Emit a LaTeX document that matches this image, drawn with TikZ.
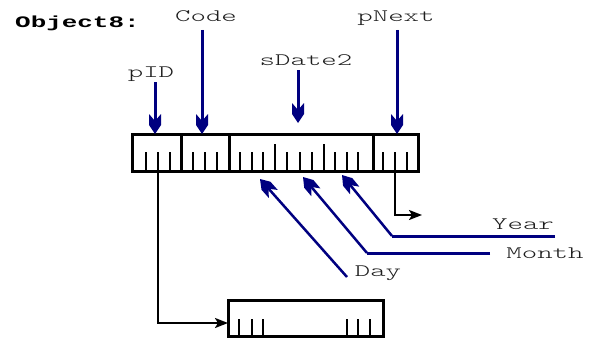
\documentclass[tikz,border=0pt]{standalone}
\usepackage{fontspec}
\usetikzlibrary{arrows.meta}
\newfontfamily\lblfont[FakeStretch=1.68]{Latin Modern Mono Light}
\newfontfamily\ttlfont[FakeStretch=1.62]{Liberation Mono Bold}
\definecolor{ptrblue}{RGB}{0,0,128}
\definecolor{txtgray}{RGB}{30,30,30}
\pgfdeclarearrow{
  name = Notch,
  setup code = {
    \pgfarrowssettipend{0pt}
    \pgfarrowssetlineend{-12pt}
    \pgfarrowssetbackend{-20pt}
    \pgfarrowshullpoint{0pt}{0pt}
    \pgfarrowsupperhullpoint{-20pt}{6pt}
    \pgfarrowsupperhullpoint{-9pt}{6pt}
  },
  drawing code = {
    \pgfpathmoveto{\pgfqpoint{0pt}{0pt}}
    \pgfpathlineto{\pgfqpoint{-9pt}{6pt}}
    \pgfpathlineto{\pgfqpoint{-20pt}{6pt}}
    \pgfpathlineto{\pgfqpoint{-13pt}{0pt}}
    \pgfpathlineto{\pgfqpoint{-20pt}{-6pt}}
    \pgfpathlineto{\pgfqpoint{-9pt}{-6pt}}
    \pgfpathclose
    \pgfusepathqfill
  }
}
\begin{document}
\begin{tikzpicture}[x=1pt,y=-1pt,
  lbl/.style={font=\lblfont\fontsize{17.5}{17.5}\selectfont, text=txtgray, inner sep=0pt, anchor=base},
  cell/.style={draw=black, line width=3pt, minimum height=37pt, inner sep=0pt},
  tick/.style={draw=black, line width=2.5pt},
  bptr/.style={draw=ptrblue, fill=ptrblue, line width=3pt, -{Notch}},
  dptr/.style={draw=ptrblue, fill=ptrblue, line width=2.5pt, -{Notch}},
  bline/.style={draw=ptrblue, line width=3pt},
  kptr/.style={draw=black, line width=2.2pt, -{Stealth[length=13pt,width=10pt,inset=3pt]}},
]
\useasboundingbox (0,0) rectangle (596,345);

% labels
\node[inner sep=0pt, anchor=base west, font=\ttlfont\fontsize{16}{16}\selectfont] (title) at (15,28) {Object8:};
\node[lbl] (code) at (206,22) {Code};
\node[lbl] (pnext) at (396,22) {pNext};
\node[lbl] (sdate) at (306,65) {sDate2};
\node[lbl] (pid) at (151,77) {pID};
\node[lbl] (year) at (523,229) {Year};
\node[lbl] (month) at (545,258) {Month};
\node[lbl] (day) at (378,276) {Day};

% main record cells
\node[cell, minimum width=49pt] (c1) at (156.5,152.5) {};
\node[cell, minimum width=48pt] (c2) at (205,152.5) {};
\node[cell, minimum width=144pt] (c3) at (301,152.5) {};
\node[cell, minimum width=45pt] (c4) at (395.5,152.5) {};

% ticks
\foreach \x in {146,158,170,193,205,217,240,252,263,287,300,312,335,347,358,383,395,407}
  \draw[tick] (\x,152) -- (\x,171);
\foreach \x in {275,324}
  \draw[tick] (\x,144) -- (\x,171);

% lower record
\node[cell, minimum width=155pt, minimum height=36pt] (low) at (305.5,318) {};
\foreach \x in {239,252,263,347,358,370}
  \draw[tick] (\x,319) -- (\x,336);

% blue pointers from top
\coordinate (pidA) at (155,82);   \coordinate (pidB) at (155,134);
\coordinate (codeA) at (202,30);  \coordinate (codeB) at (202,134);
\coordinate (sdA) at (298,70);    \coordinate (sdB) at (298,123);
\coordinate (pnA) at (397,30);    \coordinate (pnB) at (397,134);
\draw[bptr] (pidA) -- (pidB);
\draw[bptr] (codeA) -- (codeB);
\draw[bptr] (sdA) -- (sdB);
\draw[bptr] (pnA) -- (pnB);

% Day / Month / Year pointers
\coordinate (dayS) at (347,277);  \coordinate (dayT) at (260,179);
\coordinate (monE) at (490,253);  \coordinate (monS) at (367,253);  \coordinate (monT) at (303,177);
\coordinate (yrE) at (555,236);   \coordinate (yrS) at (392,236);   \coordinate (yrT) at (342,175);
\draw[dptr] (dayS) -- (dayT);
\draw[bline] (monE) -- (monS);
\draw[dptr] (monS) -- (monT);
\draw[bline] (yrE) -- (yrS);
\draw[dptr] (yrS) -- (yrT);

% black pointers
\coordinate (pidsrc) at (158,171);
\coordinate (lowin) at (228,323);
\draw[kptr] (pidsrc) |- (lowin);
\coordinate (nextsrc) at (395,171);
\coordinate (nextend) at (422,215);
\draw[kptr] (nextsrc) |- (nextend);
\end{tikzpicture}
\end{document}
